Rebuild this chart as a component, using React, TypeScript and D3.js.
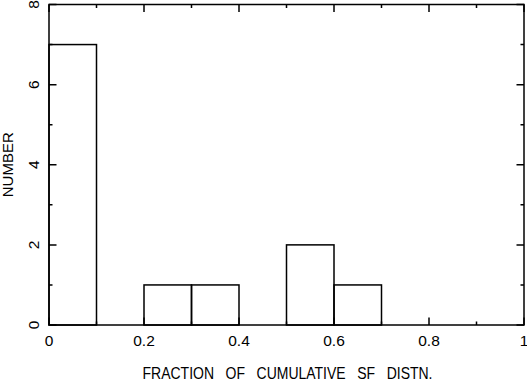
import React, { useEffect, useRef } from 'react';
import * as d3 from 'd3';

// histogram bins (lower edges) and counts
const binStarts = [0, 0.1, 0.2, 0.3, 0.4, 0.5, 0.6, 0.7, 0.8, 0.9];
const counts = [7, 0, 1, 1, 0, 2, 1, 0, 0, 0];
const binWidth = 0.1;
const xTicks = [0, 0.2, 0.4, 0.6, 0.8, 1];
const xMinor = [0.1, 0.3, 0.5, 0.7, 0.9];
const yTicks = [0, 2, 4, 6, 8];
const yMinor = [1, 3, 5, 7];
const xTitle = 'FRACTION OF CUMULATIVE SF DISTN.';
const yTitle = 'NUMBER';

const App = () => {
  const svgRef = useRef<SVGSVGElement>(null);

  useEffect(() => {
    const width = 527;
    const height = 381;
    const left = 49, right = 524, top = 4.5, bottom = 325;
    const font = '"Liberation Sans", Arial, sans-serif';

    const svg = d3.select(svgRef.current)
      .attr('width', width)
      .attr('height', height);
    svg.selectAll('*').remove();

    const x = d3.scaleLinear().domain([0, 1]).range([left, right]);
    const y = d3.scaleLinear().domain([0, 8]).range([bottom, top]);

    const g = svg.append('g')
      .attr('fill', 'none')
      .attr('stroke', '#000')
      .attr('stroke-width', 1.5);

    // bars (outline only)
    const bins = binStarts.map((b, i) => ({ x0: b, x1: b + binWidth, n: counts[i] }))
      .filter(d => d.n > 0);
    g.selectAll('rect.bar')
      .data(bins)
      .enter()
      .append('rect')
      .attr('class', 'bar')
      .attr('x', d => x(d.x0))
      .attr('y', d => y(d.n))
      .attr('width', d => x(d.x1) - x(d.x0))
      .attr('height', d => y(0) - y(d.n));

    // frame
    g.append('rect')
      .attr('x', left)
      .attr('y', top)
      .attr('width', right - left)
      .attr('height', bottom - top);

    // inward ticks on all four sides
    const major = 7.5, minor = 3.5;
    const tickPath = d3.path();
    xTicks.forEach(v => {
      tickPath.moveTo(x(v), bottom); tickPath.lineTo(x(v), bottom - major);
      tickPath.moveTo(x(v), top); tickPath.lineTo(x(v), top + major);
    });
    xMinor.forEach(v => {
      tickPath.moveTo(x(v), bottom); tickPath.lineTo(x(v), bottom - minor);
      tickPath.moveTo(x(v), top); tickPath.lineTo(x(v), top + minor);
    });
    yTicks.forEach(v => {
      tickPath.moveTo(left, y(v)); tickPath.lineTo(left + major, y(v));
      tickPath.moveTo(right, y(v)); tickPath.lineTo(right - major, y(v));
    });
    yMinor.forEach(v => {
      tickPath.moveTo(left, y(v)); tickPath.lineTo(left + minor, y(v));
      tickPath.moveTo(right, y(v)); tickPath.lineTo(right - minor, y(v));
    });
    g.append('path').attr('d', tickPath.toString());

    // x tick labels
    svg.selectAll('text.xt')
      .data(xTicks)
      .enter()
      .append('text')
      .attr('class', 'xt')
      .attr('x', d => x(d))
      .attr('y', 345.5)
      .attr('text-anchor', 'middle')
      .attr('font-family', font)
      .attr('font-size', 15.5)
      .text(d => d3.format('~g')(d));

    // y tick labels (rotated)
    svg.selectAll('text.yt')
      .data(yTicks)
      .enter()
      .append('text')
      .attr('class', 'yt')
      .attr('transform', d => `translate(38.5, ${y(d)}) rotate(-90)`)
      .attr('text-anchor', 'middle')
      .attr('font-family', font)
      .attr('font-size', 15.5)
      .text(d => d);

    // x title: slightly tall lettering with wide word gaps
    const xt = svg.append('text')
      .attr('transform', 'translate(142.5, 379) scale(1, 1.2)')
      .attr('font-family', font)
      .attr('font-size', 14)
      .text(xTitle);
    const node = xt.node() as SVGTextElement;
    const natural = node.getComputedTextLength();
    const gaps = xTitle.split(' ').length - 1;
    const target = 290;
    if (natural < target && gaps > 0) {
      xt.attr('word-spacing', (target - natural) / gaps);
    } else {
      xt.attr('textLength', target).attr('lengthAdjust', 'spacingAndGlyphs');
    }

    svg.append('text')
      .attr('transform', `translate(13, ${(top + bottom) / 2}) rotate(-90)`)
      .attr('text-anchor', 'middle')
      .attr('font-family', font)
      .attr('font-size', 15)
      .text(yTitle);
  }, []);

  return (
    <svg ref={svgRef} style={{ position: 'absolute', left: 0, top: 0, background: '#fff' }} />
  );
};

export default App;
